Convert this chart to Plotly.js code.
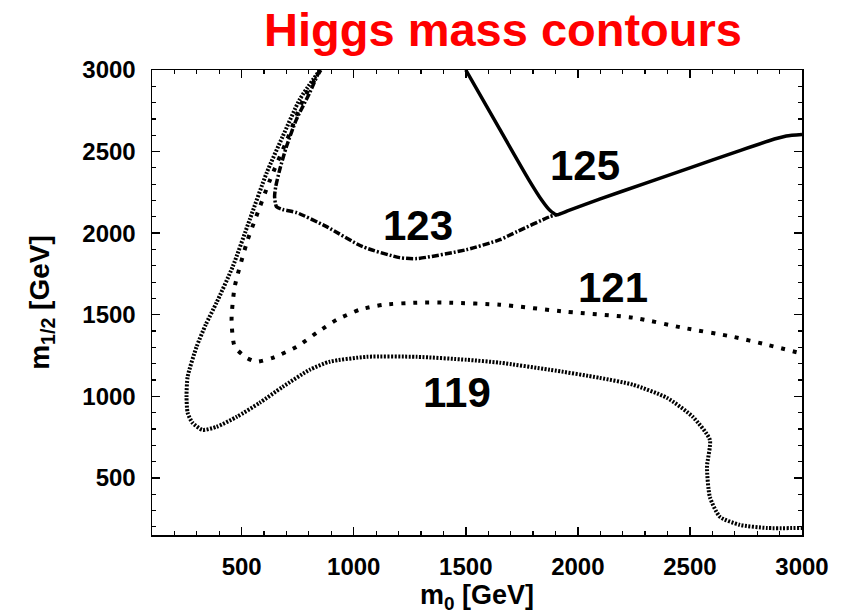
<!DOCTYPE html>
<html>
<head>
<meta charset="utf-8">
<script src="https://cdn.plot.ly/plotly-3.0.1.min.js"></script>
<style>
  html, body { margin: 0; padding: 0; background: #ffffff; }
  #chart { width: 843px; height: 614px; }
</style>
</head>
<body>
<div id="chart"></div>
<script>
// Higgs mass contours in the (m0, m1/2) plane, values in GeV.
const m0_119  = [849, 759, 683, 612, 536, 460, 388, 340, 299, 259, 254, 259, 281, 326, 388, 478, 580, 683, 804, 893, 1058, 1281, 1504, 1652, 1875, 2098, 2246, 2397, 2513, 2589, 2576, 2589, 2634, 2723, 2844, 3000];
const m12_119 = [3000, 2819, 2592, 2371, 2083, 1794, 1574, 1440, 1304, 1120, 997, 899, 837, 794, 813, 874, 960, 1058, 1163, 1212, 1242, 1242, 1224, 1206, 1163, 1113, 1071, 991, 874, 733, 567, 383, 261, 212, 193, 193];

const m0_121  = [852, 775, 703, 627, 560, 527, 469, 455, 469, 522, 567, 638, 746, 835, 924, 1027, 1129, 1281, 1429, 1652, 1951, 2246, 2469, 2692, 2844, 3000];
const m12_121 = [3000, 2819, 2574, 2328, 2083, 1960, 1672, 1469, 1304, 1236, 1212, 1236, 1304, 1390, 1469, 1531, 1561, 1574, 1574, 1561, 1518, 1482, 1420, 1365, 1316, 1262];

const m0_123  = [848, 804, 744, 700, 670, 652, 647, 655, 683, 745, 879, 1040, 1205, 1281, 1504, 1652, 1728, 1875, 1905];
const m12_123 = [3000, 2862, 2696, 2531, 2390, 2285, 2224, 2163, 2145, 2126, 2040, 1917, 1850, 1844, 1899, 1960, 2009, 2101, 2113];

const m0_125  = [1500, 1650, 1780, 1840, 1875, 1905, 1960, 2100, 2300, 2500, 2700, 2850, 2930, 3000];
const m12_125 = [3000, 2640, 2330, 2200, 2140, 2113, 2140, 2210, 2305, 2400, 2495, 2565, 2595, 2604];

// Contour labels: text and position (m0, m1/2)
const labelText = ["125", "123", "121", "119"];
const labelM0   = [2031, 1286, 2156, 1460];
const labelM12  = [2414, 2046, 1666, 1021];

const FONT = "Liberation Sans, Arial, Helvetica, sans-serif";

function contour(x, y, width, dash) {
  return {
    type: "scatter", mode: "lines", x: x, y: y,
    line: { color: "#000000", width: width, dash: dash, shape: "spline", smoothing: 0.6 },
    hoverinfo: "skip", showlegend: false
  };
}

const traces = [
  contour(m0_119, m12_119, 4, "2px,1.5px"),
  contour(m0_121, m12_121, 4, "4px,8px"),
  contour(m0_123, m12_123, 3.5, "7px,2px,2px,2px"),
  contour(m0_125, m12_125, 3.5, "solid")
];

const annotations = labelText.map((t, i) => ({
  x: labelM0[i], y: labelM12[i], xref: "x", yref: "y",
  text: t, showarrow: false,
  font: { family: FONT, size: 42, color: "#000000", weight: "bold" },
  xanchor: "center", yanchor: "middle"
}));

const axisCommon = {
  showline: true, linecolor: "#000000", linewidth: 1.5, mirror: "ticks",
  ticks: "inside", ticklen: 8, tickwidth: 1.5, tickcolor: "#000000",
  minor: { dtick: 100, ticks: "inside", ticklen: 4, tickwidth: 1.2, tickcolor: "#000000" },
  showgrid: false, zeroline: false, tick0: 0, dtick: 500,
  tickfont: { family: FONT, size: 24, color: "#000000", weight: "bold" }
};

const layout = {
  width: 843, height: 614,
  margin: { l: 152, r: 41, t: 70, b: 79 },
  paper_bgcolor: "#ffffff", plot_bgcolor: "#ffffff",
  title: {
    text: "Higgs mass contours",
    font: { family: FONT, size: 47, color: "#ff0000", weight: "bold" },
    xref: "container", yref: "container",
    x: 503 / 843, y: 1 - 30 / 614, xanchor: "center", yanchor: "middle"
  },
  xaxis: Object.assign({}, axisCommon, {
    range: [100, 3000],
    ticklabelstandoff: 10,
    title: { text: "m<sub>0</sub> [GeV]", standoff: 8,
             font: { family: FONT, size: 27, color: "#000000", weight: "bold" } }
  }),
  yaxis: Object.assign({}, axisCommon, {
    range: [150, 3000],
    ticklabelstandoff: 10,
    title: { text: "m<sub>1/2</sub> [GeV]", standoff: 24,
             font: { family: FONT, size: 28, color: "#000000", weight: "bold" } }
  }),
  annotations: annotations
};

Plotly.newPlot("chart", traces, layout, { staticPlot: true, displayModeBar: false });
</script>
</body>
</html>
